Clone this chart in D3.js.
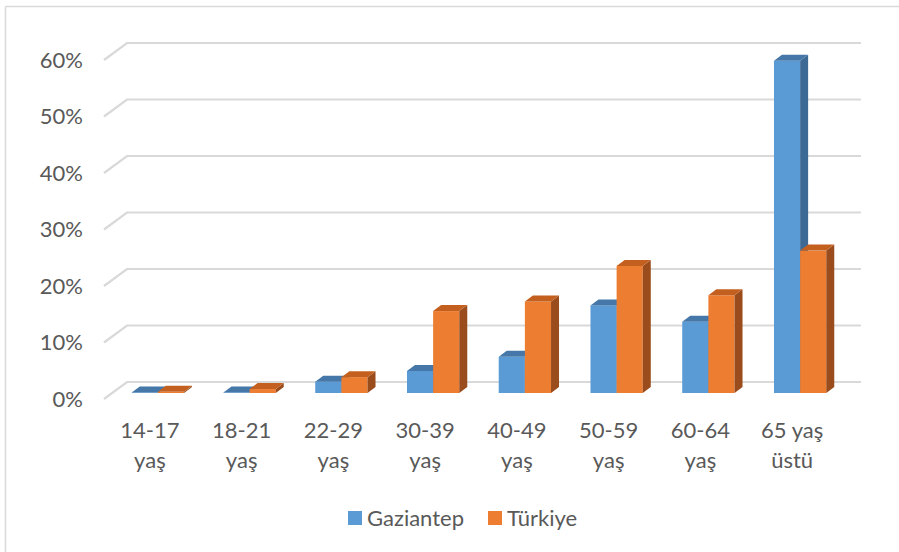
<!DOCTYPE html>
<html>
<head>
<meta charset="utf-8">
<script src="https://cdn.jsdelivr.net/npm/d3@7"></script>
<style>
  body { margin: 0; background: #fff; }
  text { font-family: Lato, "Open Sans", sans-serif; fill: #595959; }
</style>
</head>
<body>
<div id="chart"></div>
<script>
// data
const categories = ["14-17 yaş", "18-21 yaş", "22-29 yaş", "30-39 yaş", "40-49 yaş", "50-59 yaş", "60-64 yaş", "65 yaş üstü"];
const labelLines = [["14-17", "yaş"], ["18-21", "yaş"], ["22-29", "yaş"], ["30-39", "yaş"], ["40-49", "yaş"], ["50-59", "yaş"], ["60-64", "yaş"], ["65 yaş", "üstü"]];
const seriesNames = ["Gaziantep", "Türkiye"];
const gaziantep = [0.1, 0.1, 2.0, 3.9, 6.4, 15.5, 12.6, 58.8];
const turkiye = [0.2, 0.7, 2.8, 14.5, 16.2, 22.5, 17.3, 25.2];
const yTicks = [0, 10, 20, 30, 40, 50, 60];

const W = 899, H = 552;
const front = { left: 104, right: 838, bottom: 399, top: 60 };
const wall = { dx: 23, dy: -17 };   // floor depth
const barOff = { dx: 8, dy: -6 };   // bar sits this far back
const barDepth = { dx: 8, dy: -6 };

const faces = {
    Gaziantep: { front: "#5B9BD5", top: "#4577A9", side: "#3D6A94" },
    "Türkiye": { front: "#ED7D31", top: "#C4601F", side: "#9B4C1C" }
};

const svg = d3.select("#chart").append("svg")
    .attr("width", W)
    .attr("height", H);

// outer frame (only top and left visible)
svg.append("line").attr("x1", 5.5).attr("x2", W).attr("y1", 6.5).attr("y2", 6.5)
    .attr("stroke", "#D9D9D9").attr("stroke-width", 1.5);
svg.append("line").attr("x1", 5.5).attr("x2", 5.5).attr("y1", 6.5).attr("y2", H)
    .attr("stroke", "#D9D9D9").attr("stroke-width", 1.5);

// scales
const x0 = d3.scaleBand()
    .domain(categories)
    .range([front.left, front.right])
    .paddingInner(0.43)
    .paddingOuter(0.215);

const x1 = d3.scaleBand()
    .domain(seriesNames)
    .range([0, x0.bandwidth()]);

const y = d3.scaleLinear()
    .domain([0, 60])
    .range([front.bottom, front.top]);

// gridlines on back wall + diagonal on side wall
const grid = svg.append("g");
yTicks.forEach(t => {
    grid.append("path")
        .attr("d", `M${front.left},${y(t)} L${front.left + wall.dx},${y(t) + wall.dy} L${front.right + wall.dx},${y(t) + wall.dy}`)
        .attr("fill", "none")
        .attr("stroke", "#D9D9D9")
        .attr("stroke-width", 2.2);
});

// y axis labels
svg.append("g")
    .attr("transform", `translate(${front.left},0)`)
    .call(d3.axisLeft(y).tickValues(yTicks).tickSize(0).tickPadding(21).tickFormat(d => d + "%"))
    .call(g => g.select(".domain").remove())
    .selectAll("text")
    .style("font-size", "22px")
    .style("font-family", "Lato, sans-serif")
    .attr("fill", "#595959");

// bars
const rows = categories.map((c, i) => ({ cat: c, values: [gaziantep[i], turkiye[i]] }));

const groups = svg.selectAll(".grp")
    .data(rows)
    .enter()
    .append("g")
    .attr("class", "grp");

seriesNames.forEach((s, si) => {
    groups.each(function (d) {
        const g = d3.select(this);
        const v = d.values[si];
        const xl = x0(d.cat) + x1(s) + barOff.dx;
        const xr = xl + x1.bandwidth();
        const yt = y(v) + barOff.dy;
        const yb = y(0) + barOff.dy;
        const c = faces[s];
        // front
        g.append("rect")
            .attr("x", xl).attr("y", yt)
            .attr("width", xr - xl).attr("height", yb - yt)
            .attr("fill", c.front);
        // side
        g.append("path")
            .attr("d", `M${xr},${yt} L${xr + barDepth.dx},${yt + barDepth.dy} L${xr + barDepth.dx},${yb + barDepth.dy} L${xr},${yb} Z`)
            .attr("fill", c.side);
        // top
        g.append("path")
            .attr("d", `M${xl},${yt} L${xl + barDepth.dx},${yt + barDepth.dy} L${xr + barDepth.dx},${yt + barDepth.dy} L${xr},${yt} Z`)
            .attr("fill", c.top);
    });
});

// category labels
const xl = svg.selectAll(".xlab")
    .data(categories)
    .enter()
    .append("text")
    .attr("class", "xlab")
    .attr("text-anchor", "middle")
    .style("font-size", "22px");

xl.each(function (d, i) {
    const t = d3.select(this);
    labelLines[i].forEach((ln, k) => {
        t.append("tspan")
            .attr("x", x0(d) + x0.bandwidth() / 2)
            .attr("y", 438 + k * 30)
            .text(ln);
    });
});

// legend
const legend = svg.selectAll(".legend")
    .data(seriesNames)
    .enter()
    .append("g")
    .attr("class", "legend")
    .attr("transform", (d, i) => `translate(${i === 0 ? 348 : 488}, 511)`);

legend.append("rect")
    .attr("width", 14)
    .attr("height", 14)
    .attr("fill", d => faces[d].front);

legend.append("text")
    .attr("x", 19)
    .attr("y", 7)
    .attr("dy", "0.35em")
    .style("font-size", "22px")
    .text(d => d);
</script>
</body>
</html>
